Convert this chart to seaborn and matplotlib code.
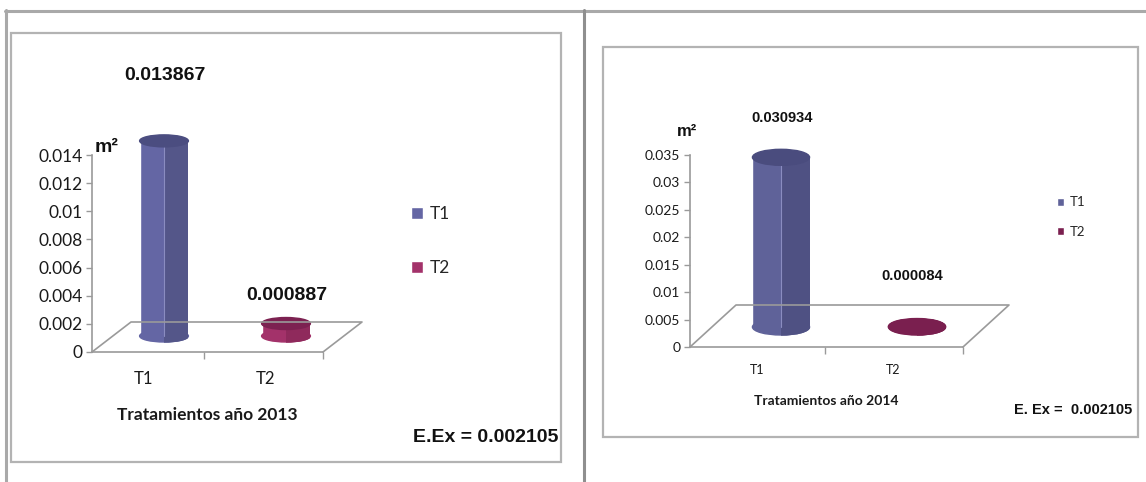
import matplotlib
matplotlib.use("Agg")
import matplotlib.pyplot as plt
import seaborn as sns
from matplotlib.patches import Ellipse, Rectangle
from matplotlib.lines import Line2D
from matplotlib.transforms import ScaledTranslation

# ---- data ----
categories = ["T1", "T2"]
area_2013 = [0.013867, 0.000887]
area_2014 = [0.030934, 0.000084]
value_labels_2013 = ["0.013867", "0.000887"]
value_labels_2014 = ["0.030934", "0.000084"]
yticks_2013 = [0, 0.002, 0.004, 0.006, 0.008, 0.010, 0.012, 0.014]
ytick_labels_2013 = ["0", "0.002", "0.004", "0.006", "0.008", "0.01", "0.012", "0.014"]
yticks_2014 = [0, 0.005, 0.010, 0.015, 0.020, 0.025, 0.030, 0.035]
ytick_labels_2014 = ["0", "0.005", "0.01", "0.015", "0.02", "0.025", "0.03", "0.035"]
xlabel_2013 = "Tratamientos año 2013"
xlabel_2014 = "Tratamientos año 2014"
error_note_2013 = "E.Ex = 0.002105"
error_note_2014 = "E. Ex =  0.002105"
unit_label = "m²"

W, H = 1146, 482
DPI = 100

sns.set_theme(style="white")
plt.rcParams["font.family"] = ["Lato", "DejaVu Sans"]
BOLD_FONT = ["Liberation Sans", "DejaVu Sans"]

fig = plt.figure(figsize=(W / DPI, H / DPI), dpi=DPI)
fig.patch.set_facecolor("white")


def fx(x):
    return x / W


def fy(y):
    return 1 - y / H


FRAME = "#a9a9a9"
AXIS = "#9a9a9a"

# page frame, divider and the two chart boxes
fig.add_artist(Line2D([fx(5), fx(W)], [fy(10.5), fy(10.5)], color=FRAME, lw=2.2))
fig.add_artist(Line2D([fx(6), fx(6)], [fy(10), fy(H)], color=FRAME, lw=2.2))
fig.add_artist(Line2D([fx(583.5), fx(583.5)], [fy(10), fy(H)], color="#8f8f8f", lw=2.2))
for (bx0, by0, bx1, by1) in [(11, 33, 561, 462), (603, 47, 1138, 437)]:
    fig.add_artist(Rectangle((fx(bx0), fy(by1)), fx(bx1) - fx(bx0), fy(by0) - fy(by1),
                             fill=False, ec="#b3b3b3", lw=1.6, transform=fig.transFigure))


def shift(dx, dy):
    return ScaledTranslation(dx / DPI, dy / DPI, fig.dpi_scale_trans)


def draw_panel(values, value_labels, yticks, ytick_labels, xlabel, note, lay):
    x0, x1 = lay["front"]
    y0, ytop = lay["yaxis"]
    c0, c1 = lay["cats"]
    ax = fig.add_axes([fx(x0), fy(y0), (x1 - x0) / W, (y0 - ytop) / H])
    ax.set_facecolor("none")

    sns.barplot(x=categories, y=values, hue=categories, palette=lay["body"],
                width=lay["bar_w"], saturation=1, ax=ax, legend=True)

    unit = c1 - c0
    xmin, xmax = -(c0 - x0) / unit, 1 + (x1 - c1) / unit
    ax.set_xlim(xmin, xmax)
    ax.set_ylim(0, yticks[-1])
    per_px = yticks[-1] / ax.bbox.height

    # floor of the pseudo-3D plot area
    ddx, ddy = lay["depth"]
    floor = [(x0, y0), (x0 + ddx, y0 - ddy), (x1 + ddx, y0 - ddy), (x1, y0)]
    fig.add_artist(Line2D([fx(p[0]) for p in floor], [fy(p[1]) for p in floor],
                          color=AXIS, lw=1.2))

    # cylinders: bars pushed back to mid depth, with elliptical caps
    bdx, bdy = lay["bar_shift"]
    cap_h = lay["cap_px"] * per_px
    for i, cont in enumerate(ax.containers):
        for bar in cont:
            bx, bw, h = bar.get_x(), bar.get_width(), bar.get_height()
            cx = bx + bw / 2
            tr = ax.transData + shift(bdx, bdy)
            z = bar.get_zorder()
            bar.set_transform(tr)
            bar.set_clip_on(False)
            base = Ellipse((cx, 0), bw, cap_h, color=lay["body"][i],
                           transform=tr, clip_on=False, zorder=z)
            ax.add_patch(base)
            # shaded right half of the cylinder, bottom rim included
            half = Rectangle((cx, -cap_h), bw / 2, h + 2 * cap_h, transform=tr,
                             visible=False)
            ax.add_patch(half)
            side = Rectangle((cx, 0), bw / 2, h, color=lay["dark"][i], transform=tr,
                             clip_on=False, zorder=z + 0.1, lw=0)
            ax.add_patch(side)
            base_dark = Ellipse((cx, 0), bw, cap_h, color=lay["dark"][i],
                                transform=tr, zorder=z + 0.1)
            ax.add_patch(base_dark)
            base_dark.set_clip_path(half)
            if h > 0.002:
                ax.add_line(Line2D([cx, cx], [0, h], color="#8a8cc0", lw=0.8,
                                   transform=tr, clip_on=False, zorder=z + 0.2))
            cap = Ellipse((cx, h), bw, cap_h, color=lay["top"][i],
                          transform=tr, clip_on=False, zorder=z + 0.3)
            ax.add_patch(cap)

    # value labels
    for i, (v, txt) in enumerate(zip(values, value_labels)):
        ox, oy = lay["label_offsets"][i]
        ax.annotate(txt, xy=(i, v), xytext=(ox, oy), textcoords="offset pixels",
                    ha="center", va="center", fontsize=lay["value_fs"],
                    fontweight="bold", family=BOLD_FONT, color="#111111",
                    annotation_clip=False)

    # axes styling
    sns.despine(ax=ax, top=True, right=True)
    ax.spines["left"].set_color(AXIS)
    ax.spines["bottom"].set_color(AXIS)
    ax.spines["left"].set_linewidth(1.2)
    ax.spines["bottom"].set_linewidth(1.2)
    ax.set_yticks(yticks)
    ax.set_yticklabels(ytick_labels)
    ax.set_xticks([0, 1])
    ax.set_xticklabels(categories)
    ax.set_xticks([0.5, xmax], minor=True)
    ax.tick_params(axis="y", left=True, direction="out", length=4, width=1,
                   color=AXIS, labelsize=lay["tick_fs"], labelcolor="#1a1a1a", pad=3)
    ax.tick_params(axis="x", which="major", bottom=True, length=0,
                   labelsize=lay["tick_fs"] - lay["cat_fs_drop"], labelcolor="#1a1a1a",
                   pad=lay["cat_pad"])
    ax.tick_params(axis="x", which="minor", bottom=True, direction="out", length=5,
                   width=1, color=AXIS)
    ax.set_xlabel(xlabel, fontsize=lay["xlabel_fs"], fontweight="bold",
                  color="#1a1a1a", labelpad=lay["xlabel_pad"])
    ax.set_ylabel("")

    ux, uy = lay["unit_pos"]
    ax.annotate(unit_label, xy=(0, 1), xycoords="axes fraction", xytext=(ux, uy),
                textcoords="offset pixels", ha="left", va="center",
                fontsize=lay["unit_fs"], fontweight="bold", family=BOLD_FONT,
                color="#111111", annotation_clip=False)

    lx, ly = lay["legend_at"]
    sns.move_legend(ax, loc="center left", bbox_to_anchor=(fx(lx), fy(ly)),
                    bbox_transform=fig.transFigure, frameon=False, title=None,
                    fontsize=lay["legend_fs"], handlelength=lay["handle"],
                    handleheight=lay["handle"], labelspacing=lay["legend_gap"],
                    handletextpad=0.4, borderpad=0, borderaxespad=0)

    nx, ny = lay["note_at"]
    fig.text(fx(nx), fy(ny), note, ha="right", va="center", fontsize=lay["note_fs"],
             fontweight="bold", family=BOLD_FONT, color="#111111")
    return ax


layout_2013 = dict(
    front=(92, 323), yaxis=(352, 155), cats=(143, 265), depth=(39, 30),
    bar_shift=(21, 16), bar_w=0.40, cap_px=12,
    body=["#6466a4", "#a3326a"], dark=["#545689", "#8f2a5c"], top=["#4b4d80", "#7c2151"],
    label_offsets=[(22, 81), (22, 44)], value_fs=14, tick_fs=12.5, cat_fs_drop=0.5,
    cat_pad=14, xlabel_fs=12.5, xlabel_pad=14, unit_pos=(3, 7), unit_fs=14,
    legend_at=(411, 241), legend_fs=12.5, handle=0.7, legend_gap=2.2,
    note_at=(558, 437), note_fs=14,
)

layout_2014 = dict(
    front=(690, 963), yaxis=(347, 155), cats=(757, 893), depth=(46, 42),
    bar_shift=(24, 20), bar_w=0.42, cap_px=16,
    body=["#5f6299", "#7a1f4f"], dark=["#4f5183", "#7a1f4f"], top=["#4a4c7e", "#7a1f4f"],
    label_offsets=[(25, 59), (19, 71)], value_fs=10.5, tick_fs=10, cat_fs_drop=1,
    cat_pad=12, xlabel_fs=10, xlabel_pad=14, unit_pos=(-13, 23), unit_fs=12,
    legend_at=(1057, 217), legend_fs=9.5, handle=0.55, legend_gap=1.3,
    note_at=(1132, 410), note_fs=10.5,
)

draw_panel(area_2013, value_labels_2013, yticks_2013, ytick_labels_2013,
           xlabel_2013, error_note_2013, layout_2013)
draw_panel(area_2014, value_labels_2014, yticks_2014, ytick_labels_2014,
           xlabel_2014, error_note_2014, layout_2014)

fig.savefig("out.png", dpi=DPI, facecolor="white")
